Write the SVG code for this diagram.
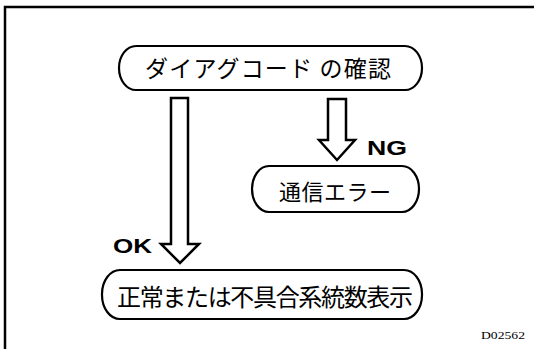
<svg xmlns="http://www.w3.org/2000/svg" width="534" height="349" viewBox="0 0 534 349">
<style>
.pill{fill:#fff;stroke:#000;stroke-width:2.2}
.arrow{fill:#fff;stroke:#000;stroke-width:2.5;stroke-linejoin:miter}
.jp{font-family:"Noto Sans CJK JP","Noto Sans CJK SC",sans-serif;fill:#000;text-anchor:middle}
.lbl{font-family:"Liberation Sans",Arial,sans-serif;font-weight:bold;fill:#000}
</style>
<rect x="0" y="0" width="534" height="349" fill="#fff"/>
<g id="frame"><path d="M5,349 V7 H534" fill="none" stroke="#000" stroke-width="2.5"/></g>
<g id="connectors">
<path class="arrow" d="M171,98 H188 V244 H199 L180,263 L161,244 H171 Z"/>
<path class="arrow" d="M328,99 H346 V140 H355 L337,160 L319,140 H328 Z"/>
<text class="lbl" x="367" y="155" font-size="21" textLength="40" lengthAdjust="spacingAndGlyphs">NG</text>
<text class="lbl" x="113" y="253" font-size="21" textLength="39" lengthAdjust="spacingAndGlyphs">OK</text>
</g>
<g id="node-check">
<rect class="pill" x="119" y="46" width="303" height="44" rx="17" ry="22"/>
<text class="jp" x="268" y="77" font-size="23" textLength="246" lengthAdjust="spacing">ダイアグコード の確認</text>
</g>
<g id="node-error">
<rect class="pill" x="252" y="166" width="167" height="46" rx="17" ry="23"/>
<text class="jp" x="335" y="200" font-size="22" textLength="112" lengthAdjust="spacing">通信エラー</text>
</g>
<g id="node-result">
<rect class="pill" x="102" y="270" width="320" height="49" rx="18" ry="24"/>
<text class="jp" x="265" y="306" font-size="24" textLength="296" lengthAdjust="spacing">正常または不具合系統数表示</text>
</g>
<text x="481" y="339" font-family="Liberation Serif,serif" font-size="11" textLength="44" lengthAdjust="spacingAndGlyphs" fill="#000">D02562</text>
</svg>
